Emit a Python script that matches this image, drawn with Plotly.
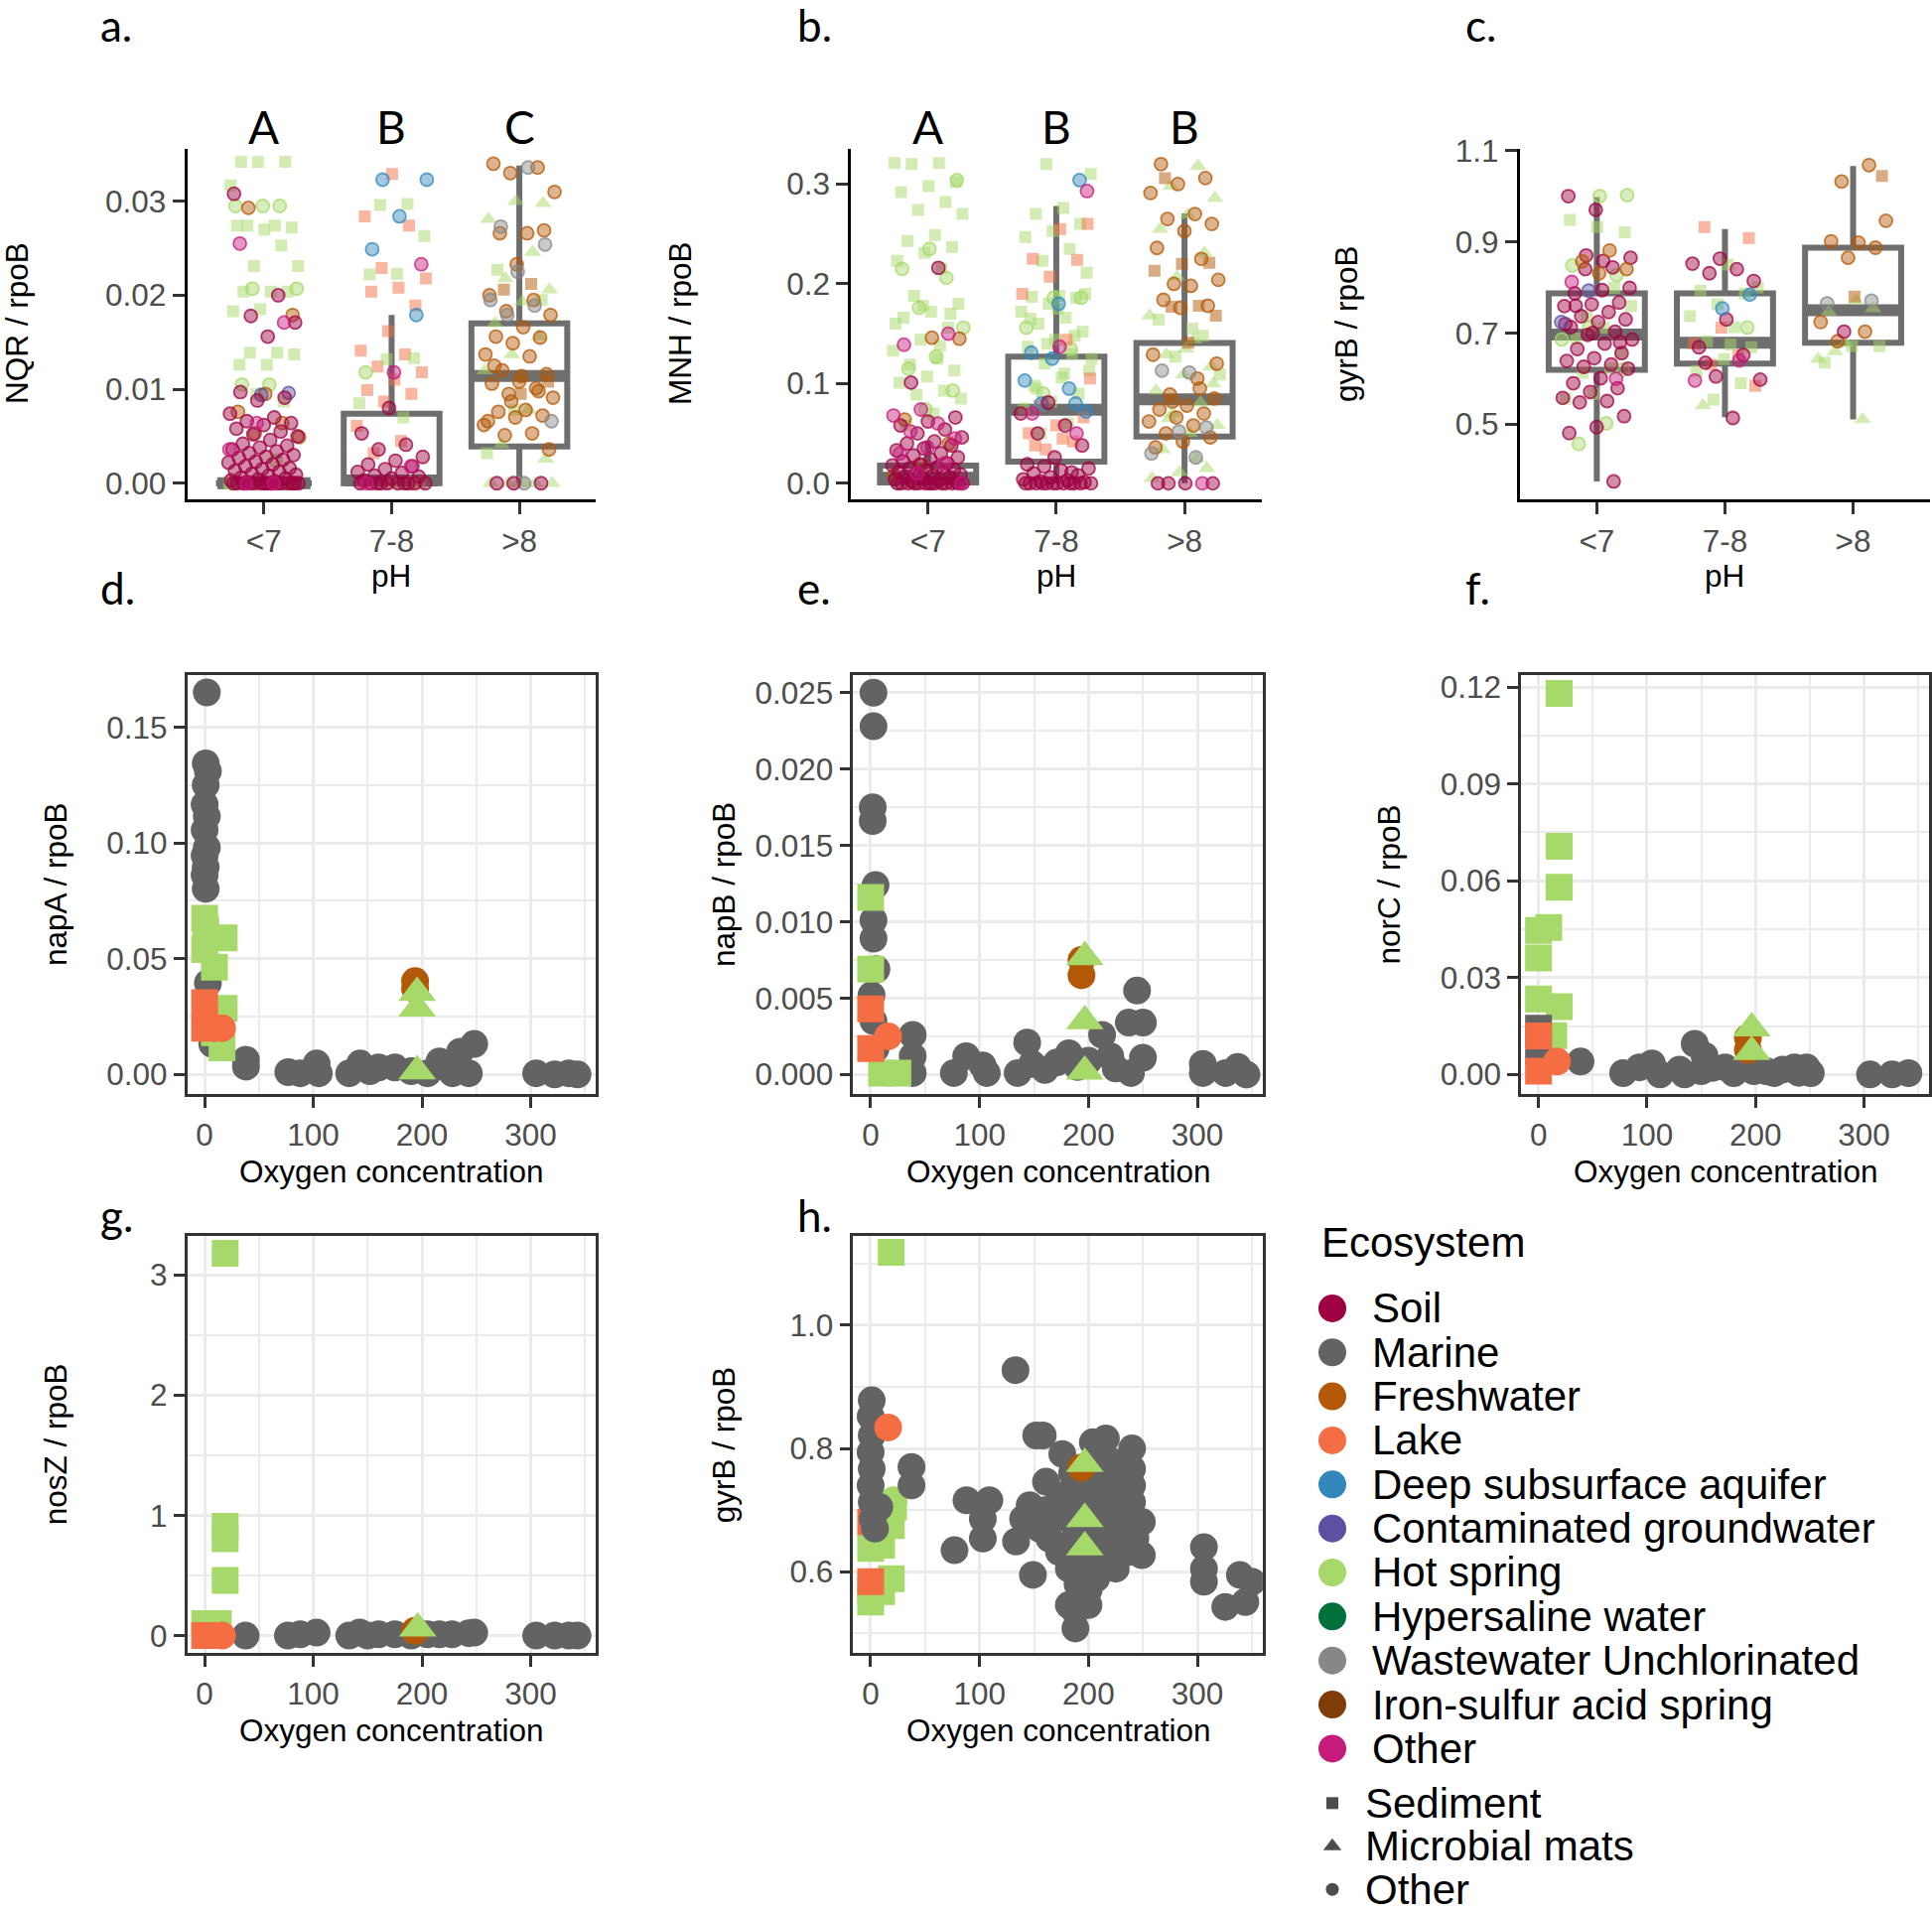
import plotly.graph_objects as go

W, H = 1946, 1926

# ---------------- categories ----------------
ECOSYSTEMS = ["Soil", "Marine", "Freshwater", "Lake", "Deep subsurface aquifer",
              "Contaminated groundwater", "Hot spring", "Hypersaline water",
              "Wastewater Unchlorinated", "Iron-sulfur acid spring", "Other"]
ECO_COLORS = ["#9E0142", "#636363", "#B35806", "#F46D43", "#3288BD", "#5E4FA2",
              "#A6D96A", "#00703C", "#878787", "#7F3B08", "#C51B7D"]
SAMPLE_TYPES = ["Sediment", "Microbial mats", "Other"]
PH_GROUPS = ["<7", "7-8", ">8"]
O2_TICKS = [0, 100, 200, 300]

# ---------------- panel a : NQR / rpoB by pH ----------------
nqr_q1 = [0.0, 0.0, 0.0039]
nqr_median = [0.0, 0.0003, 0.0114]
nqr_q3 = [0.0, 0.0074, 0.0170]
nqr_lower = [0.0, 0.0, 0.0]
nqr_upper = [0.0, 0.0179, 0.0338]
nqr_letters = ["A", "B", "C"]

nqr_lt7_hot_sed = [0.0342, 0.0342, 0.0342, 0.0317, 0.0274, 0.0274, 0.0272, 0.0270, 0.0274, 0.0253,
                   0.0231, 0.0231, 0.0204, 0.0204, 0.0204, 0.0185, 0.0183, 0.0139, 0.0139, 0.0137,
                   0.0126, 0.0126, 0.0087, 0.0095, 0.0, 0.0, 0.0, 0.0]
nqr_lt7_hot_oth = [0.0295, 0.0295, 0.0295, 0.0207, 0.0207, 0.0105, 0.0105, 0.0, 0.0, 0.0, 0.0024]
nqr_lt7_soil = [0.0308, 0.020, 0.0178, 0.0171, 0.0156, 0.0097, 0.0091, 0.0088, 0.0074, 0.0070,
                0.0066, 0.0064, 0.0062, 0.0058, 0.0055, 0.0052, 0.0050, 0.0046, 0.0042, 0.0040,
                0.0038, 0.0036, 0.0034, 0.0032, 0.0030, 0.0028, 0.0027, 0.0025, 0.0023, 0.0022,
                0.0020, 0.0018, 0.0016, 0.0015, 0.0013, 0.0012, 0.0010, 0.0009, 0.0008, 0.0006,
                0.0005, 0.0004, 0.0003, 0.0002, 0.0001, 0.0, 0.0, 0.0, 0.0, 0.0,
                0.0, 0.0, 0.0, 0.0, 0.0, 0.0, 0.0, 0.0, 0.0, 0.0]
nqr_lt7_other = [0.0255, 0.0171, 0.0064, 0.0036, 0.0, 0.0]
nqr_lt7_fresh = [0.0293, 0.0179, 0.0095, 0.0076, 0.0064, 0.0053, 0.0049, 0.0, 0.0]
nqr_lt7_contam = [0.0096, 0.0094]

nqr_mid_lake_sed = [0.0329, 0.0284, 0.0274, 0.0229, 0.0218, 0.0208, 0.0204, 0.0189, 0.0162, 0.0141,
                    0.0137, 0.0124, 0.0118, 0.011, 0.0099, 0.0095, 0.0087, 0.0061, 0.0045, 0.0032,
                    0.0, 0.0, 0.0]
nqr_mid_deep = [0.0323, 0.0323, 0.0284, 0.0249, 0.0179]
nqr_mid_hot_sed = [0.0297, 0.0296, 0.0263, 0.0223, 0.0222, 0.0133, 0.0132, 0.0085, 0.007, 0.0, 0.0, 0.0]
nqr_mid_hot_oth = [0.0118, 0.0]
nqr_mid_other = [0.0233, 0.0118, 0.0, 0.0018]
nqr_mid_soil = [0.008, 0.0053, 0.0041, 0.0036, 0.0028, 0.0024, 0.002, 0.0018, 0.0015, 0.0012,
                0.0011, 0.0008, 0.0007, 0.0005, 0.0003, 0.0, 0.0, 0.0, 0.0, 0.0,
                0.0, 0.0, 0.0, 0.0, 0.0]

nqr_gt8_fresh = [0.034, 0.0336, 0.033, 0.031, 0.0266, 0.0266, 0.0269, 0.0233, 0.020, 0.0195,
                 0.0183, 0.0179, 0.0166, 0.0156, 0.0155, 0.0149, 0.0137, 0.0135, 0.012, 0.0116,
                 0.0108, 0.0106, 0.0101, 0.0095, 0.0091, 0.0078, 0.0076, 0.0072, 0.007, 0.0066,
                 0.0053, 0.0051, 0.0036, 0.0114, 0.0125, 0.0098, 0.0087, 0.0062]
nqr_gt8_fresh_sed = [0.0212, 0.0206, 0.0108, 0.0095]
nqr_gt8_waste = [0.0336, 0.0273, 0.0254, 0.0225, 0.0195, 0.0189, 0.0179, 0.0066, 0.0]
nqr_gt8_hot_mat = [0.0298, 0.030, 0.0281, 0.0246, 0.0218, 0.0206, 0.0193, 0.017, 0.0156, 0.0137,
                   0.012, 0.0078, 0.0041, 0.0026, 0.0, 0.0, 0.0, 0.0, 0.0, 0.0]
nqr_gt8_hot_sed = [0.0227, 0.0195, 0.0078, 0.0032]
nqr_gt8_soil = [0.0, 0.0, 0.0]

# ---------------- panel b : MNH / rpoB by pH ----------------
mnh_q1 = [0.0008, 0.0217, 0.0469]
mnh_median = [0.0055, 0.0737, 0.0843]
mnh_q3 = [0.0177, 0.127, 0.1406]
mnh_lower = [0.0, 0.0, 0.0]
mnh_upper = [0.043, 0.278, 0.2705]
mnh_letters = ["A", "B", "B"]

mnh_lt7_hot_sed = [0.321, 0.321, 0.320, 0.302, 0.298, 0.292, 0.282, 0.274, 0.270, 0.249,
                   0.243, 0.237, 0.231, 0.223, 0.215, 0.188, 0.18, 0.172, 0.166, 0.156,
                   0.144, 0.133, 0.125, 0.119, 0.113, 0.107, 0.101, 0.093, 0.089, 0.085,
                   0.070, 0.058, 0.17, 0.178, 0.16, 0.138, 0.0]
mnh_lt7_hot_oth = [0.304, 0.235, 0.215, 0.206, 0.176, 0.156, 0.127, 0.115, 0.093, 0.074, 0.0, 0.0, 0.0]
mnh_lt7_soil = [0.216, 0.101, 0.066, 0.062, 0.058, 0.054, 0.05, 0.046, 0.042, 0.04,
                0.038, 0.035, 0.033, 0.03, 0.028, 0.026, 0.024, 0.022, 0.02, 0.019,
                0.018, 0.016, 0.015, 0.014, 0.013, 0.012, 0.011, 0.01, 0.009, 0.008,
                0.007, 0.006, 0.005, 0.004, 0.003, 0.002, 0.001, 0.0, 0.0, 0.0,
                0.0, 0.0, 0.0, 0.0, 0.0, 0.0, 0.0, 0.0, 0.0, 0.0, 0.0]
mnh_lt7_other = [0.139, 0.150, 0.074, 0.068, 0.060, 0.052, 0.045, 0.036, 0.03, 0.02, 0.01, 0.0]
mnh_lt7_fresh = [0.145, 0.146, 0.064, 0.04, 0.018, 0.008]

mnh_mid_deep = [0.304, 0.125, 0.103, 0.095, 0.080, 0.072, 0.18, 0.131, 0.08]
mnh_mid_other = [0.293, 0.137, 0.07, 0.05]
mnh_mid_hot_sed = [0.320, 0.310, 0.276, 0.270, 0.260, 0.253, 0.247, 0.235, 0.223, 0.211,
                   0.188, 0.187, 0.186, 0.18, 0.172, 0.166, 0.16, 0.152, 0.144, 0.137,
                   0.13, 0.12, 0.113, 0.106, 0.098, 0.09, 0.082, 0.075, 0.06, 0.05,
                   0.19, 0.175, 0.165, 0.148, 0.14, 0.125, 0.11, 0.095]
mnh_mid_hot_oth = [0.186, 0.186, 0.156, 0.135, 0.09]
mnh_mid_lake_sed = [0.26, 0.255, 0.225, 0.224, 0.207, 0.19, 0.144, 0.078, 0.066, 0.058,
                    0.05, 0.042, 0.034, 0.105, 0.045, 0.038]
mnh_mid_soil = [0.081, 0.07, 0.058, 0.05, 0.038, 0.026, 0.019, 0.011, 0.017, 0.015,
                0.013, 0.01, 0.008, 0.006, 0.004, 0.003, 0.002, 0.001, 0.0, 0.0,
                0.0, 0.0, 0.0, 0.0, 0.0, 0.0, 0.0, 0.0, 0.0, 0.0]

mnh_gt8_fresh = [0.32, 0.306, 0.300, 0.291, 0.270, 0.265, 0.26, 0.253, 0.236, 0.225,
                 0.2, 0.204, 0.198, 0.184, 0.178, 0.176, 0.129, 0.105, 0.089, 0.085,
                 0.078, 0.074, 0.07, 0.066, 0.062, 0.058, 0.05, 0.046, 0.042, 0.036,
                 0.095, 0.082, 0.12]
mnh_gt8_fresh_sed = [0.306, 0.221, 0.220, 0.213, 0.178, 0.177, 0.168, 0.141]
mnh_gt8_hot_mat = [0.318, 0.298, 0.286, 0.269, 0.255, 0.231, 0.207, 0.168, 0.144, 0.129,
                   0.117, 0.109, 0.093, 0.081, 0.07, 0.058, 0.05, 0.034, 0.015, 0.011,
                   0.005, 0.025, 0.065, 0.1, 0.135]
mnh_gt8_hot_sed = [0.164, 0.148, 0.127, 0.109, 0.155]
mnh_gt8_waste = [0.111, 0.113, 0.056, 0.052, 0.03, 0.026]
mnh_gt8_soil = [0.0, 0.0, 0.0, 0.0]
mnh_gt8_other = [0.0]

# ---------------- panel c : gyrB / rpoB by pH ----------------
gyr_q1 = [0.6196, 0.633, 0.679]
gyr_median = [0.6965, 0.679, 0.750]
gyr_q3 = [0.787, 0.787, 0.887]
gyr_lower = [0.375, 0.5155, 0.511]
gyr_upper = [0.998, 0.928, 1.066]

gyr_lt7_hot_oth = [1.002, 1.0, 0.848, 0.827, 0.713, 0.686, 0.502, 0.457, 0.62]
gyr_lt7_hot_sed = [0.921, 0.932, 0.948, 0.799, 0.737, 0.759, 0.712, 0.688, 0.656, 0.567,
                   0.556, 0.622, 0.613]
gyr_lt7_soil = [0.970, 1.0, 0.844, 0.840, 0.799, 0.794, 0.787, 0.767, 0.763, 0.759,
                0.746, 0.737, 0.730, 0.724, 0.713, 0.703, 0.696, 0.686, 0.677, 0.665,
                0.656, 0.645, 0.639, 0.631, 0.626, 0.622, 0.601, 0.590, 0.579, 0.571,
                0.558, 0.551, 0.548, 0.518, 0.494, 0.481, 0.375, 0.87, 0.865, 0.858,
                0.76, 0.68, 0.70, 0.72]
gyr_lt7_fresh = [0.881, 0.857, 0.840, 0.831]
gyr_lt7_other = [0.812, 0.60]
gyr_lt7_contam = [0.793, 0.724]

gyr_mid_lake_sed = [0.932, 0.908, 0.712, 0.677, 0.652, 0.631, 0.584]
gyr_mid_soil = [0.863, 0.852, 0.840, 0.831, 0.814, 0.730, 0.669, 0.652, 0.605, 0.598, 0.514, 0.635]
gyr_mid_deep = [0.784, 0.754]
gyr_mid_hot_sed = [0.850, 0.793, 0.787, 0.763, 0.737, 0.713, 0.682, 0.669, 0.643, 0.617,
                   0.59, 0.554, 0.8, 0.675]
gyr_mid_hot_mat = [0.541]
gyr_mid_other = [0.596, 0.64]
gyr_mid_hot_oth = [0.712]

gyr_gt8_fresh = [1.068, 1.032, 0.946, 0.898, 0.901, 0.887, 0.865, 0.724, 0.703, 0.682]
gyr_gt8_fresh_sed = [1.044, 0.780]
gyr_gt8_waste = [0.765, 0.771]
gyr_gt8_hot_mat = [0.771, 0.746, 0.754, 0.677, 0.643, 0.511, 0.66]
gyr_gt8_hot_sed = [0.671, 0.671, 0.635]
gyr_gt8_soil = [0.703]

# ---------------- panel d : napA / rpoB vs oxygen ----------------
napa_marine_o2 = [2, 1, 3, 1, 0, 2, 0, 2, 0, 1, 0, 1, 3, 3, 7, 38, 38, 77, 88, 103, 105,
                  133, 143, 152, 160, 175, 190, 205, 216, 228, 235, 248, 243, 305, 322, 335, 343]
napa_marine_val = [0.165, 0.1344, 0.131, 0.125, 0.1166, 0.1115, 0.1056, 0.098, 0.0946, 0.0895,
                   0.0861, 0.0802, 0.0395, 0.0268, 0.0132, 0.0034, 0.0064, 0.001, 0.0005, 0.0047,
                   0.0005, 0.0005, 0.0047, 0.0014, 0.003, 0.003, 0.0014, 0.0005, 0.0056, 0.0005,
                   0.0098, 0.0132, 0.0005, 0.0005, 0.0, 0.0005, 0.0]
napa_hot_sed_o2 = [0, 1, 18, 9, 0, 18, 16, 9]
napa_hot_sed_val = [0.0675, 0.0624, 0.059, 0.0463, 0.054, 0.0285, 0.0115, 0.018]
napa_lake_sed_o2 = [0, 0]
napa_lake_sed_val = [0.031, 0.020]
napa_lake_oth_o2 = [16, 9]
napa_lake_oth_val = [0.020, 0.020]
napa_fresh_o2 = [193.6, 193.6]
napa_fresh_val = [0.0403, 0.037]
napa_hot_mat_o2 = [195.5, 195.5, 195.5]
napa_hot_mat_val = [0.0353, 0.0285, 0.0014]

# ---------------- panel e : napB / rpoB vs oxygen ----------------
napb_marine_o2 = [2.6, 2.6, 1.9, 1.9, 4.5, 2.6, 2.6, 5.3, 0.8, 2.6, 4.5, 38.6, 38.6, 38.6,
                  76.4, 87.7, 102.8, 106.6, 135, 143.7, 148.2, 171, 182, 212.5, 220, 237,
                  244.6, 250, 250, 239, 305, 305, 326, 337, 345, 190, 200, 160, 225]
napb_marine_val = [0.025, 0.0228, 0.0175, 0.0166, 0.0124, 0.0101, 0.0089, 0.0069, 0.0052, 0.0035,
                   0.0017, 0.0026, 0.0012, 0.0001, 0.0001, 0.0012, 0.0006, 0.0001, 0.0001, 0.0021,
                   0.0007, 0.0008, 0.0014, 0.0026, 0.0012, 0.0034, 0.0055, 0.0034, 0.0011, 0.0001,
                   0.0007, 0.0001, 0.0001, 0.0005, 0.0, 0.0005, 0.0009, 0.0003, 0.0004]
napb_hot_sed_o2 = [0, 0, 10, 25]
napb_hot_sed_val = [0.0116, 0.0069, 0.0001, 0.0001]
napb_lake_sed_o2 = [0, 0]
napb_lake_sed_val = [0.0043, 0.0017]
napb_lake_oth_o2 = [16]
napb_lake_oth_val = [0.0025]
napb_fresh_o2 = [193.6, 193.6]
napb_fresh_val = [0.0075, 0.0065]
napb_hot_mat_o2 = [196.6, 196.6, 196.6]
napb_hot_mat_val = [0.0077, 0.0035, 0.0002]

# ---------------- panel f : norC / rpoB vs oxygen ----------------
norc_marine_o2 = [38.7, 78, 93, 104.5, 112, 134.6, 144, 153, 172, 198.5, 217, 236, 247, 251,
                  305.6, 326, 341, 150, 180, 210, 225, 240, 160, 130]
norc_marine_val = [0.004, 0.0004, 0.0022, 0.0034, 0.0, 0.0, 0.0095, 0.0058, 0.0022, 0.001,
                   0.0004, 0.0022, 0.0022, 0.0004, 0.0, 0.0, 0.0004, 0.001, 0.0004, 0.001,
                   0.0015, 0.0005, 0.002, 0.0015]
norc_marine_sed_o2 = [0, 0]
norc_marine_sed_val = [0.0143, 0.007]
norc_hot_sed_o2 = [19, 19, 19, 9.4, 0, 0, 19, 14, 0]
norc_hot_sed_val = [0.118, 0.0707, 0.058, 0.0455, 0.0361, 0.0234, 0.021, 0.012, 0.0446]
norc_lake_sed_o2 = [0, 0]
norc_lake_sed_val = [0.0119, 0.001]
norc_lake_oth_o2 = [17]
norc_lake_oth_val = [0.004]
norc_fresh_o2 = [193, 193]
norc_fresh_val = [0.0113, 0.0076]
norc_hot_mat_o2 = [196.6, 196.6]
norc_hot_mat_val = [0.0143, 0.007]

# ---------------- panel g : nosZ / rpoB vs oxygen ----------------
nosz_marine_o2 = [37.7, 76.6, 88, 103, 133, 142.6, 160, 175, 190, 216, 227.5, 243, 248,
                  305, 322, 335, 343, 205, 150]
nosz_marine_val = [0.0, 0.0, 0.01, 0.025, 0.0, 0.025, 0.01, 0.01, 0.0, 0.01, 0.01, 0.02, 0.025,
                   0.0, 0.0, 0.0, 0.0, 0.01, 0.0]
nosz_hot_sed_o2 = [18.9, 18.9, 18.9, 18.9, 0, 12.5]
nosz_hot_sed_val = [3.18, 0.909, 0.805, 0.46, 0.10, 0.10]
nosz_lake_sed_o2 = [0]
nosz_lake_sed_val = [0.0]
nosz_lake_oth_o2 = [16]
nosz_lake_oth_val = [0.0]
nosz_fresh_o2 = [193.6]
nosz_fresh_val = [0.04]
nosz_hot_mat_o2 = [196]
nosz_hot_mat_val = [0.06]

# ---------------- panel h : gyrB / rpoB vs oxygen ----------------
gyro_marine_o2 = [1, 0, 1, 0, 1, 0, 1, 2, 4, 8, 37.5, 37.5, 77, 88, 109, 103, 103, 133,
                  152, 158, 176, 204, 216, 207, 240, 240, 240, 240, 249, 249, 161, 146, 140,
                  133.5, 149, 188, 188, 194.5, 207, 225, 237, 243, 173, 164, 170, 188, 213,
                  219, 231, 188, 173, 225, 182, 204, 182, 200, 195, 210, 185, 220, 230, 200,
                  215, 195, 190, 200, 230, 205, 180, 160, 155, 306, 306, 306, 339, 325.6, 344, 350]
gyro_marine_val = [0.878, 0.852, 0.821, 0.794, 0.767, 0.740, 0.713, 0.686, 0.670, 0.705, 0.770,
                   0.740, 0.635, 0.716, 0.716, 0.686, 0.654, 0.927, 0.821, 0.821, 0.791, 0.810,
                   0.816, 0.772, 0.800, 0.767, 0.740, 0.713, 0.681, 0.627, 0.746, 0.708, 0.686,
                   0.649, 0.595, 0.508, 0.535, 0.562, 0.589, 0.605, 0.632, 0.654, 0.632, 0.654,
                   0.686, 0.659, 0.659, 0.697, 0.686, 0.697, 0.724, 0.751, 0.605, 0.616, 0.546,
                   0.546, 0.740, 0.730, 0.760, 0.780, 0.720, 0.700, 0.630, 0.620, 0.580, 0.570,
                   0.650, 0.680, 0.710, 0.700, 0.670, 0.640, 0.605, 0.584, 0.595, 0.543, 0.551,
                   0.584]
gyro_hot_sed_o2 = [18.9, 0, 0, 10, 19, 19, 0, 10, 21]
gyro_hot_sed_val = [1.118, 0.638, 0.569, 0.568, 0.675, 0.589, 0.551, 0.643, 0.705]
gyro_hot_oth_o2 = [21]
gyro_hot_oth_val = [0.716]
gyro_lake_sed_o2 = [0, 0]
gyro_lake_sed_val = [0.681, 0.584]
gyro_lake_oth_o2 = [16]
gyro_lake_oth_val = [0.834]
gyro_fresh_o2 = [193.6]
gyro_fresh_val = [0.769]
gyro_hot_mat_o2 = [196.6, 196.6, 196.6]
gyro_hot_mat_val = [0.775, 0.686, 0.640]

# ======================================================================
FONT = "Liberation Sans, Arial, sans-serif"
LFONT = "Lato, Liberation Sans, sans-serif"
COLOR = dict(zip(ECOSYSTEMS, ECO_COLORS))
SYMBOL = {"Sediment": "square", "Microbial mats": "triangle-up", "Other": "circle"}
SMALL = {"square": 12, "triangle-up": 15, "circle": 13}
BIG = {"square": 27, "triangle-up": 33, "circle": 28}
BOXC = "#6E6E6E"
TICKC = "#4D4D4D"
TS = 31.5   # tick / axis-title font size


def rgba(hx, a):
    h = hx.lstrip("#")
    return "rgba(%d,%d,%d,%.2f)" % (int(h[0:2], 16), int(h[2:4], 16), int(h[4:6], 16), a)


def Y(p):
    # vertical layout correction (page-level offset measured in the rendered picture)
    return (p - 14.6) / 0.9918


def xd(x0, x1):
    return [x0 / W, x1 / W]


def yd(y0, y1):
    return [1 - Y(y1) / H, 1 - Y(y0) / H]


def py(p):
    return 1 - Y(p) / H


fig = go.Figure()
annotations = []

# ---------- box / jitter panels ----------
NQR_POINTS = [
    ("<7", "Hot spring", "Sediment", nqr_lt7_hot_sed), ("<7", "Hot spring", "Other", nqr_lt7_hot_oth),
    ("<7", "Freshwater", "Other", nqr_lt7_fresh), ("<7", "Contaminated groundwater", "Other", nqr_lt7_contam),
    ("<7", "Soil", "Other", nqr_lt7_soil), ("<7", "Other", "Other", nqr_lt7_other),
    ("7-8", "Lake", "Sediment", nqr_mid_lake_sed), ("7-8", "Hot spring", "Sediment", nqr_mid_hot_sed),
    ("7-8", "Hot spring", "Other", nqr_mid_hot_oth), ("7-8", "Deep subsurface aquifer", "Other", nqr_mid_deep),
    ("7-8", "Soil", "Other", nqr_mid_soil), ("7-8", "Other", "Other", nqr_mid_other),
    (">8", "Hot spring", "Microbial mats", nqr_gt8_hot_mat), (">8", "Hot spring", "Sediment", nqr_gt8_hot_sed),
    (">8", "Freshwater", "Sediment", nqr_gt8_fresh_sed), (">8", "Freshwater", "Other", nqr_gt8_fresh),
    (">8", "Wastewater Unchlorinated", "Other", nqr_gt8_waste), (">8", "Soil", "Other", nqr_gt8_soil),
]
MNH_POINTS = [
    ("<7", "Hot spring", "Sediment", mnh_lt7_hot_sed), ("<7", "Hot spring", "Other", mnh_lt7_hot_oth),
    ("<7", "Freshwater", "Other", mnh_lt7_fresh), ("<7", "Soil", "Other", mnh_lt7_soil),
    ("<7", "Other", "Other", mnh_lt7_other),
    ("7-8", "Hot spring", "Sediment", mnh_mid_hot_sed), ("7-8", "Hot spring", "Other", mnh_mid_hot_oth),
    ("7-8", "Lake", "Sediment", mnh_mid_lake_sed), ("7-8", "Deep subsurface aquifer", "Other", mnh_mid_deep),
    ("7-8", "Soil", "Other", mnh_mid_soil), ("7-8", "Other", "Other", mnh_mid_other),
    (">8", "Hot spring", "Microbial mats", mnh_gt8_hot_mat), (">8", "Hot spring", "Sediment", mnh_gt8_hot_sed),
    (">8", "Freshwater", "Sediment", mnh_gt8_fresh_sed), (">8", "Freshwater", "Other", mnh_gt8_fresh),
    (">8", "Wastewater Unchlorinated", "Other", mnh_gt8_waste), (">8", "Soil", "Other", mnh_gt8_soil),
    (">8", "Other", "Other", mnh_gt8_other),
]
GYR_POINTS = [
    ("<7", "Hot spring", "Sediment", gyr_lt7_hot_sed), ("<7", "Hot spring", "Other", gyr_lt7_hot_oth),
    ("<7", "Soil", "Other", gyr_lt7_soil), ("<7", "Freshwater", "Other", gyr_lt7_fresh),
    ("<7", "Other", "Other", gyr_lt7_other), ("<7", "Contaminated groundwater", "Other", gyr_lt7_contam),
    ("7-8", "Lake", "Sediment", gyr_mid_lake_sed), ("7-8", "Hot spring", "Sediment", gyr_mid_hot_sed),
    ("7-8", "Hot spring", "Microbial mats", gyr_mid_hot_mat), ("7-8", "Hot spring", "Other", gyr_mid_hot_oth),
    ("7-8", "Soil", "Other", gyr_mid_soil), ("7-8", "Deep subsurface aquifer", "Other", gyr_mid_deep),
    ("7-8", "Other", "Other", gyr_mid_other),
    (">8", "Hot spring", "Microbial mats", gyr_gt8_hot_mat), (">8", "Hot spring", "Sediment", gyr_gt8_hot_sed),
    (">8", "Freshwater", "Other", gyr_gt8_fresh), (">8", "Freshwater", "Sediment", gyr_gt8_fresh_sed),
    (">8", "Wastewater Unchlorinated", "Other", gyr_gt8_waste), (">8", "Soil", "Other", gyr_gt8_soil),
]

ROW1 = (148.5, 502)
BOX_PANELS = [
    dict(n=1, xpx=(188.6, 600.3), title="NQR / rpoB", tx=17, q1=nqr_q1, med=nqr_median, q3=nqr_q3,
         lo=nqr_lower, hi=nqr_upper, letters=nqr_letters, pts=NQR_POINTS,
         yr=[-0.0017, 0.0356], tv=[0, 0.01, 0.02, 0.03], fmt=".2f", lab="a.", labx=99),
    dict(n=2, xpx=(857.3, 1270.6), title="MNH / rpoB", tx=685, q1=mnh_q1, med=mnh_median, q3=mnh_q3,
         lo=mnh_lower, hi=mnh_upper, letters=mnh_letters, pts=MNH_POINTS,
         yr=[-0.0159, 0.3355], tv=[0, 0.1, 0.2, 0.3], fmt=".1f", lab="b.", labx=801),
    dict(n=3, xpx=(1530.9, 1944), title="gyrB / rpoB", tx=1356, q1=gyr_q1, med=gyr_median, q3=gyr_q3,
         lo=gyr_lower, hi=gyr_upper, letters=None, pts=GYR_POINTS,
         yr=[0.336, 1.104], tv=[0.5, 0.7, 0.9, 1.1], fmt=".1f", lab="c.", labx=1474),
]

GOLD = 0.6180339887
JIT = 0.28
BOXW = 0.75

for P in BOX_PANELS:
    n = P["n"]
    xa = "x" if n == 1 else "x%d" % n
    ya = "y" if n == 1 else "y%d" % n
    pos = [i + 1 for i in range(len(PH_GROUPS))]
    fig.add_trace(go.Box(x=pos, q1=P["q1"], median=P["med"], q3=P["q3"],
                         lowerfence=P["lo"], upperfence=P["hi"], width=BOXW,
                         line=dict(color=BOXC, width=6), fillcolor="rgba(0,0,0,0)",
                         whiskerwidth=0, showlegend=False, hoverinfo="skip",
                         xaxis=xa, yaxis=ya))
    for p, m in zip(pos, P["med"]):
        fig.add_trace(go.Scatter(x=[p - BOXW / 2 + 0.01, p + BOXW / 2 - 0.01], y=[m, m], mode="lines",
                                 line=dict(color=BOXC, width=12), showlegend=False,
                                 hoverinfo="skip", xaxis=xa, yaxis=ya))
    counters = {g: 0 for g in PH_GROUPS}
    for grp, eco, st, vals in P["pts"]:
        gi = PH_GROUPS.index(grp) + 1
        c0 = counters[grp] + 7 * gi + 3 * n
        xs = [gi + ((((c0 + k) * GOLD) % 1.0) - 0.5) * 2 * JIT for k in range(len(vals))]
        counters[grp] += len(vals)
        sym = SYMBOL[st]
        col = COLOR[eco]
        if sym == "circle":
            mk = dict(symbol=sym, size=SMALL[sym], color=rgba(col, 0.45),
                      line=dict(color=rgba(col, 0.75), width=1.8))
        else:
            mk = dict(symbol=sym, size=SMALL[sym], color=rgba(col, 0.5), line=dict(width=0))
        fig.add_trace(go.Scatter(x=xs, y=vals, mode="markers", marker=mk, showlegend=False,
                                 hoverinfo="skip", xaxis=xa, yaxis=ya))
    fig.update_layout(**{
        ("xaxis" if n == 1 else "xaxis%d" % n): dict(
            domain=xd(*P["xpx"]), range=[0.4, 3.6], tickvals=pos, ticktext=PH_GROUPS,
            showline=True, linecolor="black", linewidth=3, ticks="outside", ticklen=12,
            tickwidth=3, tickcolor="#333333", tickfont=dict(size=TS, color=TICKC, family=FONT),
            showgrid=False, zeroline=False, anchor=ya, fixedrange=True),
        ("yaxis" if n == 1 else "yaxis%d" % n): dict(
            domain=yd(*ROW1), range=P["yr"], tickvals=P["tv"], tickformat=P["fmt"],
            showline=True, linecolor="black", linewidth=3, ticks="outside", ticklen=12,
            tickwidth=3, tickcolor="#333333", tickfont=dict(size=TS, color=TICKC, family=FONT),
            showgrid=False, zeroline=False, anchor=xa, fixedrange=True),
    })
    annotations.append(dict(text=P["title"], x=P["tx"] / W, y=py(325), xref="paper", yref="paper",
                            textangle=-90, showarrow=False, font=dict(size=TS, color="black", family=FONT),
                            xanchor="center", yanchor="middle"))
    annotations.append(dict(text="pH", x=2, y=py(579), xref=xa, yref="paper", showarrow=False,
                            font=dict(size=TS, color="black", family=FONT), xanchor="center", yanchor="middle"))
    annotations.append(dict(text=P["lab"], x=P["labx"] / W, y=py(24), xref="paper", yref="paper",
                            showarrow=False, font=dict(size=44, color="black", family=LFONT),
                            xanchor="left", yanchor="middle"))
    if P["letters"]:
        for p, L in zip(pos, P["letters"]):
            annotations.append(dict(text=L, x=p, y=py(126.5), xref=xa, yref="paper", showarrow=False,
                                    font=dict(size=46, color="black", family=LFONT),
                                    xanchor="center", yanchor="middle"))

# ---------- oxygen scatter panels ----------
ROW2 = (679.4, 1102)
ROW3 = (1245, 1666)
SCATTER_PANELS = [
    dict(n=4, xpx=(188.6, 600.3), ypx=ROW2, title="napA / rpoB", tx=56, yr=[-0.0085, 0.1725],
         tv=[0, 0.05, 0.10, 0.15], mv=[0.025, 0.075, 0.125], fmt=".2f", lab="d.", labx=99, laby=591,
         series=[("Marine", "Other", napa_marine_o2, napa_marine_val),
                 ("Hot spring", "Sediment", napa_hot_sed_o2, napa_hot_sed_val),
                 ("Lake", "Sediment", napa_lake_sed_o2, napa_lake_sed_val),
                 ("Lake", "Other", napa_lake_oth_o2, napa_lake_oth_val),
                 ("Freshwater", "Other", napa_fresh_o2, napa_fresh_val),
                 ("Hot spring", "Microbial mats", napa_hot_mat_o2, napa_hot_mat_val)]),
    dict(n=5, xpx=(859.4, 1271.9), ypx=ROW2, title="napB / rpoB", tx=729, yr=[-0.00128, 0.02615],
         tv=[0, 0.005, 0.010, 0.015, 0.020, 0.025], mv=[0.0025, 0.0075, 0.0125, 0.0175, 0.0225],
         fmt=".3f", lab="e.", labx=801, laby=591,
         series=[("Marine", "Other", napb_marine_o2, napb_marine_val),
                 ("Hot spring", "Sediment", napb_hot_sed_o2, napb_hot_sed_val),
                 ("Lake", "Sediment", napb_lake_sed_o2, napb_lake_sed_val),
                 ("Lake", "Other", napb_lake_oth_o2, napb_lake_oth_val),
                 ("Freshwater", "Other", napb_fresh_o2, napb_fresh_val),
                 ("Hot spring", "Microbial mats", napb_hot_mat_o2, napb_hot_mat_val)]),
    dict(n=6, xpx=(1532.2, 1943), ypx=ROW2, title="norC / rpoB", tx=1399.5, yr=[-0.0061, 0.1237],
         tv=[0, 0.03, 0.06, 0.09, 0.12], mv=[0.015, 0.045, 0.075, 0.105], fmt=".2f",
         lab="f.", labx=1474, laby=591,
         series=[("Marine", "Other", norc_marine_o2, norc_marine_val),
                 ("Hot spring", "Sediment", norc_hot_sed_o2, norc_hot_sed_val),
                 ("Marine", "Sediment", norc_marine_sed_o2, norc_marine_sed_val),
                 ("Lake", "Sediment", norc_lake_sed_o2, norc_lake_sed_val),
                 ("Lake", "Other", norc_lake_oth_o2, norc_lake_oth_val),
                 ("Freshwater", "Other", norc_fresh_o2, norc_fresh_val),
                 ("Hot spring", "Microbial mats", norc_hot_mat_o2, norc_hot_mat_val)]),
    dict(n=7, xpx=(188.6, 600.3), ypx=ROW3, title="nosZ / rpoB", tx=56, yr=[-0.148, 3.325],
         tv=[0, 1, 2, 3], mv=[0.5, 1.5, 2.5], fmt="d", lab="g.", labx=99, laby=1224,
         series=[("Marine", "Other", nosz_marine_o2, nosz_marine_val),
                 ("Hot spring", "Sediment", nosz_hot_sed_o2, nosz_hot_sed_val),
                 ("Lake", "Sediment", nosz_lake_sed_o2, nosz_lake_sed_val),
                 ("Lake", "Other", nosz_lake_oth_o2, nosz_lake_oth_val),
                 ("Freshwater", "Other", nosz_fresh_o2, nosz_fresh_val),
                 ("Hot spring", "Microbial mats", nosz_hot_mat_o2, nosz_hot_mat_val)]),
    dict(n=8, xpx=(859.4, 1271.9), ypx=ROW3, title="gyrB / rpoB", tx=729, yr=[0.4677, 1.1446],
         tv=[0.6, 0.8, 1.0], mv=[0.5, 0.7, 0.9, 1.1], fmt=".1f", lab="h.", labx=801, laby=1224,
         series=[("Hot spring", "Sediment", gyro_hot_sed_o2, gyro_hot_sed_val),
                 ("Hot spring", "Other", gyro_hot_oth_o2, gyro_hot_oth_val),
                 ("Lake", "Sediment", gyro_lake_sed_o2, gyro_lake_sed_val),
                 ("Marine", "Other", gyro_marine_o2, gyro_marine_val),
                 ("Lake", "Other", gyro_lake_oth_o2, gyro_lake_oth_val),
                 ("Freshwater", "Other", gyro_fresh_o2, gyro_fresh_val),
                 ("Hot spring", "Microbial mats", gyro_hot_mat_o2, gyro_hot_mat_val)]),
]

for P in SCATTER_PANELS:
    n = P["n"]
    xa, ya = "x%d" % n, "y%d" % n
    for eco, st, xs, ys in P["series"]:
        sym = SYMBOL[st]
        fig.add_trace(go.Scatter(x=xs, y=ys, mode="markers",
                                 marker=dict(symbol=sym, size=BIG[sym], color=COLOR[eco], line=dict(width=0)),
                                 showlegend=False, hoverinfo="skip", xaxis=xa, yaxis=ya))
    common = dict(showline=True, mirror=True, linecolor="#333333", linewidth=2.5, ticks="outside",
                  ticklen=11, tickwidth=3, tickcolor="#333333",
                  tickfont=dict(size=TS, color=TICKC, family=FONT), showgrid=True,
                  gridcolor="#EBEBEB", gridwidth=3, zeroline=False, fixedrange=True)
    fig.update_layout(**{
        "xaxis%d" % n: dict(domain=xd(*P["xpx"]), range=[-16, 360], tickvals=O2_TICKS, anchor=ya,
                            minor=dict(tickvals=[50, 150, 250, 350], showgrid=True, gridcolor="#EBEBEB",
                                       gridwidth=1.5, ticks=""), **common),
        "yaxis%d" % n: dict(domain=yd(*P["ypx"]), range=P["yr"], tickvals=P["tv"], tickformat=P["fmt"],
                            anchor=xa, minor=dict(tickvals=P["mv"], showgrid=True, gridcolor="#EBEBEB",
                                                  gridwidth=1.5, ticks=""), **common),
    })
    cy = (P["ypx"][0] + P["ypx"][1]) / 2
    annotations.append(dict(text=P["title"], x=P["tx"] / W, y=py(cy), xref="paper", yref="paper",
                            textangle=-90, showarrow=False, font=dict(size=TS, color="black", family=FONT),
                            xanchor="center", yanchor="middle"))
    annotations.append(dict(text="Oxygen concentration", x=(P["xpx"][0] + P["xpx"][1]) / 2 / W,
                            y=py(P["ypx"][1] + 78), xref="paper", yref="paper", showarrow=False,
                            font=dict(size=TS, color="black", family=FONT), xanchor="center", yanchor="middle"))
    annotations.append(dict(text=P["lab"], x=P["labx"] / W, y=py(P["laby"]), xref="paper", yref="paper",
                            showarrow=False, font=dict(size=44, color="black", family=LFONT),
                            xanchor="left", yanchor="middle"))

# ---------- manual legend (own hidden axes in pixel units) ----------
LX0, LY0 = 1300, 1220
fig.update_layout(xaxis9=dict(domain=[LX0 / W, 1], range=[LX0, W], visible=False, fixedrange=True, anchor="y9"),
                  yaxis9=dict(domain=[0, 1 - Y(LY0) / H], range=[H, Y(LY0)], visible=False,
                              fixedrange=True, anchor="x9"))
eco_y = [Y(1318 + i * 44.4) for i in range(len(ECOSYSTEMS))]
fig.add_trace(go.Scatter(x=[1342] * len(ECOSYSTEMS), y=eco_y, mode="markers",
                         marker=dict(symbol="circle", size=28, color=ECO_COLORS, line=dict(width=0)),
                         showlegend=False, hoverinfo="skip", xaxis="x9", yaxis="y9"))
annotations.append(dict(text="Ecosystem", x=1329, y=Y(1252), xref="x9", yref="y9", showarrow=False,
                        font=dict(size=42, color="black", family=FONT), xanchor="left", yanchor="middle"))
for name, yy in zip(ECOSYSTEMS, eco_y):
    annotations.append(dict(text=name, x=1380, y=yy, xref="x9", yref="y9", showarrow=False,
                            font=dict(size=42, color="black", family=FONT), xanchor="left", yanchor="middle"))
st_y = [Y(1817 + j * 43.5) for j in range(len(SAMPLE_TYPES))]
fig.add_trace(go.Scatter(x=[1342] * len(SAMPLE_TYPES), y=st_y, mode="markers",
                         marker=dict(symbol=[SYMBOL[s] for s in SAMPLE_TYPES], size=[12, 16, 13],
                                     color="black", line=dict(width=0)),
                         showlegend=False, hoverinfo="skip", xaxis="x9", yaxis="y9"))
for name, yy in zip(SAMPLE_TYPES, st_y):
    annotations.append(dict(text=name, x=1373, y=yy, xref="x9", yref="y9", showarrow=False,
                            font=dict(size=42, color="black", family=FONT), xanchor="left", yanchor="middle"))

fig.update_layout(width=W, height=H, autosize=False, margin=dict(l=0, r=0, t=0, b=0),
                  paper_bgcolor="white", plot_bgcolor="rgba(0,0,0,0)", showlegend=False,
                  boxmode="overlay", annotations=annotations, font=dict(family=FONT))

POST = ("document.documentElement.style.margin='0';document.body.style.margin='0';"
        "document.body.style.padding='0';document.documentElement.style.overflow='hidden';"
        "var d=document.getElementById('{plot_id}');d.style.position='absolute';"
        "d.style.left='0px';d.style.top='0px';")
fig.write_html("out.html", post_script=POST, config={"displayModeBar": False})
